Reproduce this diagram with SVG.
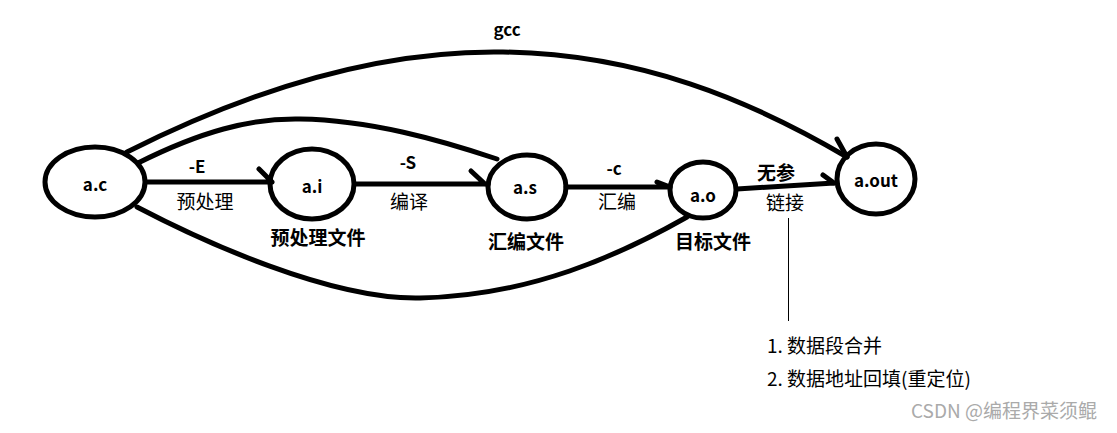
<svg xmlns="http://www.w3.org/2000/svg" width="1117" height="433" viewBox="0 0 1117 433">
<style>
.node{fill:none;stroke:#000;stroke-width:5}
.edge{fill:none;stroke:#000;stroke-width:5;stroke-linecap:round}
.thin{fill:none;stroke:#000;stroke-width:1}
text{font-family:"Noto Sans CJK SC","Liberation Sans",sans-serif;fill:#000;text-anchor:middle}
.nl{font-size:17px;font-weight:bold}
.bl{font-size:19px;font-weight:bold}
.rl{font-size:19px}
.note{font-size:19px;text-anchor:start}
.wm{font-size:19px;fill:#aaa;text-anchor:start}
</style>
<rect width="1117" height="433" fill="#fff"/>
<g id="connectors">
<path class="edge" d="M127,152 C250,90 380,50 503,52 C640,54 750,100 847,157"/>
<path class="edge" d="M837,139 L847,157"/>
<path class="edge" d="M138,163 C200,132 250,118 300,119 C370,120 440,140 497,159"/>
<path class="edge" d="M137,207 C200,240 330,300 420,298 C530,296 620,255 687,217"/>
<path class="edge" d="M147,182 L272,182 M259,169 L272,182"/>
<path class="edge" d="M355,184 L488,184 M471,171 L485,184"/>
<path class="edge" d="M566,187 L670,187 M657,182 L670,187"/>
<path class="edge" d="M737,189 L834,183 M823,175 L834,183"/>
<path class="thin" d="M788.5,218 L788.5,321"/>
</g>
<g id="n-ac"><ellipse class="node" cx="95" cy="182" rx="50" ry="35"/><text class="nl" x="95" y="191">a.c</text></g>
<g id="n-ai"><ellipse class="node" cx="312" cy="184" rx="42" ry="35"/><text class="nl" x="312" y="193">a.i</text></g>
<g id="n-as"><ellipse class="node" cx="527" cy="187" rx="39" ry="32"/><text class="nl" x="525" y="194">a.s</text></g>
<g id="n-ao"><ellipse class="node" cx="703" cy="190" rx="33" ry="28"/><text class="nl" x="703" y="202">a.o</text></g>
<g id="n-aout"><ellipse class="node" cx="876" cy="179" rx="39" ry="35"/><text class="nl" x="876" y="187">a.out</text></g>
<g id="labels">
<text class="nl" x="507" y="36">gcc</text>
<text class="nl" x="197" y="173">-E</text>
<text class="rl" x="205" y="209">预处理</text>
<text class="nl" x="408" y="169">-S</text>
<text class="rl" x="409" y="209">编译</text>
<text class="nl" x="614" y="175">-c</text>
<text class="rl" x="617" y="209">汇编</text>
<text class="bl" x="776" y="180">无参</text>
<text class="rl" x="785" y="210">链接</text>
<text class="bl" x="318" y="245">预处理文件</text>
<text class="bl" x="526" y="249">汇编文件</text>
<text class="bl" x="713" y="249">目标文件</text>
<text class="note" x="767" y="353">1. 数据段合并</text>
<text class="note" x="767" y="386">2. 数据地址回填(重定位)</text>
<text class="wm" x="911" y="418">CSDN @编程界菜须鲲</text>
</g>
</svg>
